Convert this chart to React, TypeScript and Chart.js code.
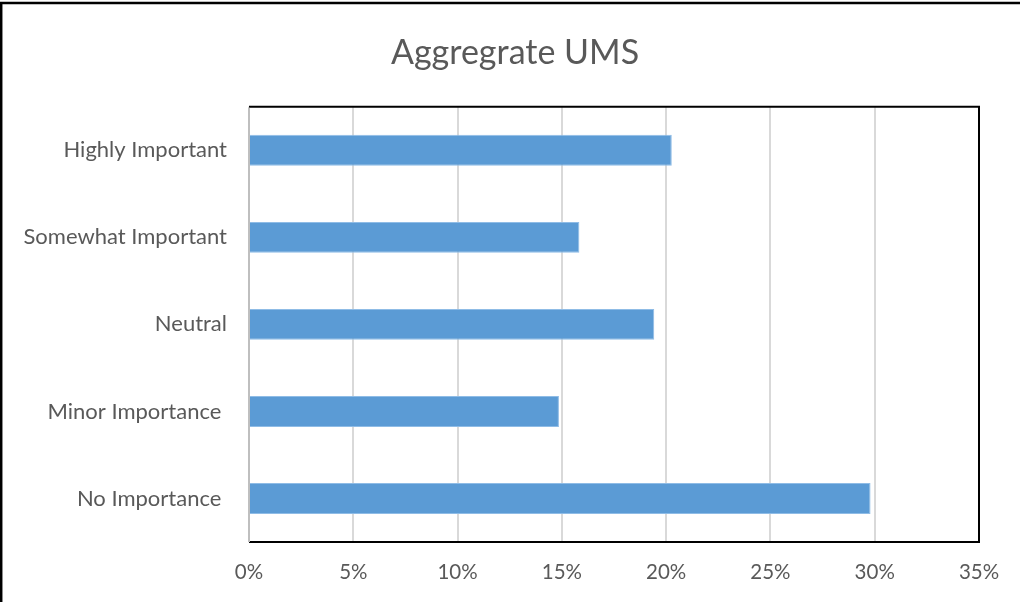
import React, { useEffect, useRef } from "react";
import { Chart, registerables } from "chart.js";

Chart.register(...registerables);

const categories = ["Highly Important", "Somewhat Important", "Neutral", "Minor Importance ", "No Importance "];
const values = [20.27, 15.84, 19.43, 14.86, 29.8];
const tickMax = 35;
const tickStep = 5;
const title = "Aggregrate UMS";

const FONT = "Lato, 'Open Sans', sans-serif";
const TEXT = "#595959";

const borders = {
  id: "borders",
  beforeDraw(chart: any) {
    const { ctx } = chart;
    ctx.save();
    ctx.fillStyle = "#ffffff";
    ctx.fillRect(0, 0, chart.width, chart.height);
    ctx.strokeStyle = "#000000";
    ctx.lineWidth = 2.5;
    ctx.beginPath();
    ctx.moveTo(1.2, chart.height);
    ctx.lineTo(1.2, 3);
    ctx.lineTo(chart.width, 3);
    ctx.stroke();
    ctx.restore();
  },
  afterDatasetsDraw(chart: any) {
    const { ctx, chartArea } = chart;
    ctx.save();
    ctx.strokeStyle = "#000000";
    ctx.lineWidth = 2;
    ctx.beginPath();
    ctx.moveTo(chartArea.left, chartArea.top);
    ctx.lineTo(chartArea.right, chartArea.top);
    ctx.lineTo(chartArea.right, chartArea.bottom);
    ctx.lineTo(chartArea.left, chartArea.bottom);
    ctx.stroke();
    ctx.strokeStyle = "#BFBFBF";
    ctx.beginPath();
    ctx.moveTo(chartArea.left, chartArea.top + 1);
    ctx.lineTo(chartArea.left, chartArea.bottom);
    ctx.stroke();
    ctx.restore();
  },
};

export default function App() {
  const ref = useRef<HTMLCanvasElement>(null);
  useEffect(() => {
    document.body.style.margin = "0";
    const chart = new Chart(ref.current as HTMLCanvasElement, {
      type: "bar",
      data: {
        labels: categories,
        datasets: [
          {
            data: values,
            backgroundColor: "#5B9BD5",
            borderColor: "#8FBCE6",
            borderWidth: 1,
            barPercentage: 0.355,
            categoryPercentage: 1,
          },
        ],
      },
      options: {
        indexAxis: "y",
        responsive: false,
        animation: false,
        layout: { padding: { left: 10, right: 0, top: 0, bottom: 0 } },
        plugins: {
          legend: { display: false },
          tooltip: { enabled: false },
          title: {
            display: true,
            text: title,
            color: TEXT,
            font: { family: FONT, size: 34, weight: "normal" },
            padding: { top: 33, bottom: 33 },
          },
        },
        scales: {
          x: {
            min: 0,
            max: tickMax,
            ticks: {
              stepSize: tickStep,
              color: TEXT,
              font: { family: FONT, size: 20.5 },
              padding: 18,
              callback: (v: any) => v + "%",
            },
            grid: { color: "#D9D9D9", lineWidth: 2, drawTicks: false },
            border: { display: false },
            afterFit: (s: any) => {
              s.height = 60;
            },
          },
          y: {
            ticks: {
              color: TEXT,
              font: { family: FONT, size: 22 },
              padding: 22,
            },
            grid: { display: false, drawTicks: false },
            border: { display: false },
            afterFit: (s: any) => {
              s.width = 239;
            },
          },
          y2: {
            position: "right",
            display: true,
            ticks: { display: false },
            grid: { display: false, drawTicks: false },
            border: { display: false },
            afterFit: (s: any) => {
              s.width = 41;
            },
          },
        },
      },
      plugins: [borders],
    });
    return () => chart.destroy();
  }, []);
  return (
    <div style={{ position: "absolute", left: 0, top: 0, width: 1020, height: 602 }}>
      <canvas ref={ref} width={1020} height={602} />
    </div>
  );
}
